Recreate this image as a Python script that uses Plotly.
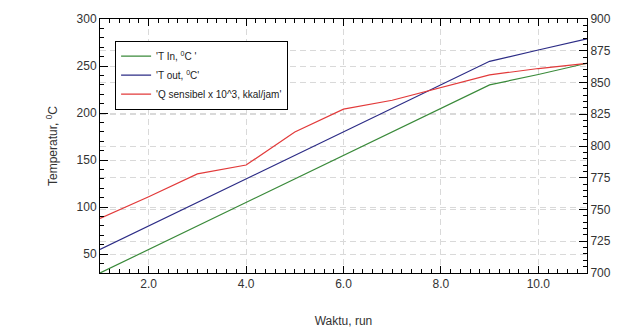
import plotly.graph_objects as go

run = [1, 2, 3, 4, 5, 6, 7, 8, 9, 10, 11]
t_in = [30, 55, 80, 105, 130, 155, 180, 205, 230, 241, 253]
t_out = [55, 80, 105, 130, 155, 180, 205, 230, 255, 267, 279]
q_sens = [743, 760, 778, 785, 811, 829, 836, 846, 856, 861, 865]

x_tickvals = [2, 4, 6, 8, 10]
x_ticktext = ["2.0", "4.0", "6.0", "8.0", "10.0"]

names = ["'T In, <sup>0</sup>C '", "'T out, <sup>0</sup>C'", "'Q sensibel x 10^3, kkal/jam'"]
colors = ["#3a8a3a", "#2c2c86", "#e23a3a"]

fig = go.Figure()
fig.add_trace(go.Scatter(x=run, y=t_in, mode="lines", name=names[0],
                         line=dict(color=colors[0], width=1.2)))
fig.add_trace(go.Scatter(x=run, y=t_out, mode="lines", name=names[1],
                         line=dict(color=colors[1], width=1.2)))
fig.add_trace(go.Scatter(x=run, y=q_sens, mode="lines", name=names[2],
                         line=dict(color=colors[2], width=1.2), yaxis="y2"))

font = dict(family="Liberation Sans, Arial, sans-serif", size=12, color="#333333")
grid = dict(gridcolor="#d9d9d9", griddash="6px,4px", gridwidth=1)

fig.update_layout(
    width=627, height=331,
    margin=dict(l=100, r=40, t=19, b=58),
    paper_bgcolor="white", plot_bgcolor="white",
    font=font,
    showlegend=True,
    legend=dict(x=0.031, y=0.915, xanchor="left", yanchor="top",
                bgcolor="white", bordercolor="black", borderwidth=1,
                font=dict(family="Liberation Sans, Arial, sans-serif", size=10, color="#222"),
                tracegroupgap=0, itemwidth=30),
    xaxis=dict(range=[1, 11], tickmode="array", tickvals=x_tickvals, ticktext=x_ticktext,
               ticks="inside", ticklen=7, tickcolor="black", showline=True, linecolor="black",
               linewidth=1, mirror="ticks", showgrid=True, zeroline=False, automargin=False, **grid,
               minor=dict(tick0=1, dtick=0.2, ticks="inside", ticklen=4, tickcolor="black", showgrid=False),
               title=dict(text="Waktu, run", font=dict(size=12, color="#333"), standoff=26),
               tickfont=dict(size=12, color="#333")),
    yaxis=dict(range=[30, 300], tickmode="linear", tick0=0, dtick=50,
               ticks="inside", ticklen=8, tickcolor="black", showline=True, linecolor="black",
               linewidth=1, showgrid=True, zeroline=False, **grid,
               minor=dict(dtick=10, ticks="inside", ticklen=4, tickcolor="black", showgrid=False),
               title=dict(text="Temperatur, <sup>0</sup>C", font=dict(size=12, color="#333"), standoff=16),
               tickfont=dict(size=12, color="#333")),
    yaxis2=dict(range=[700, 900], overlaying="y", side="right", tickmode="linear", tick0=700, dtick=25,
                ticks="inside", ticklen=8, tickcolor="black", showline=True, linecolor="black",
                linewidth=1, showgrid=True, zeroline=False, **grid,
                minor=dict(dtick=5, ticks="inside", ticklen=4, tickcolor="black", showgrid=False),
                tickfont=dict(size=12, color="#333")),
)

fig.write_html("out.html")
